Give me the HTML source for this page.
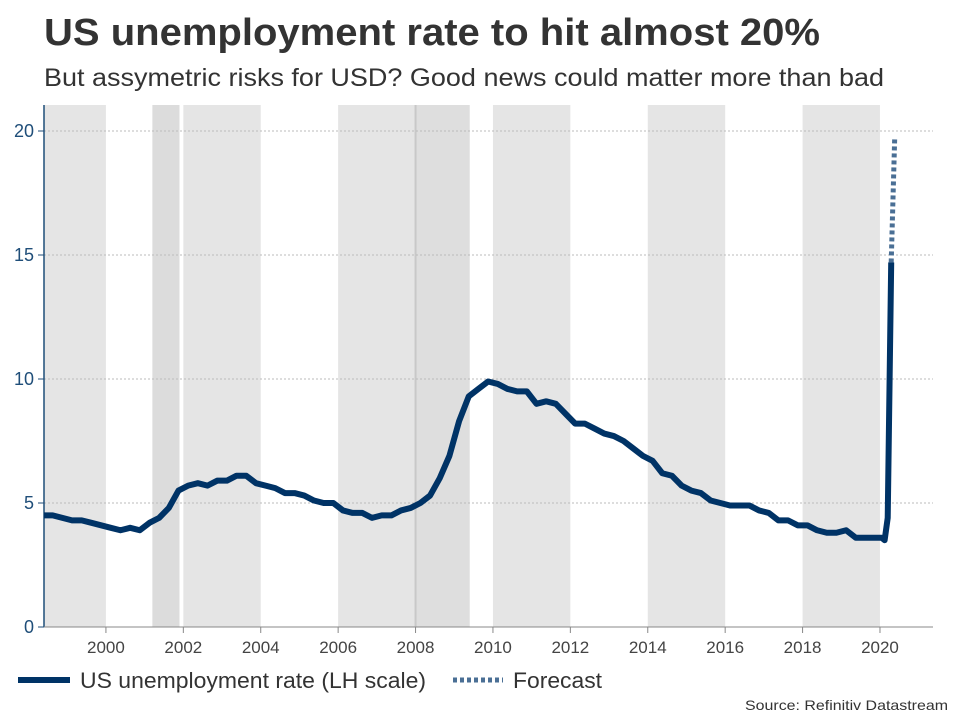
<!DOCTYPE html>
<html><head><meta charset="utf-8"><style>
body{margin:0;width:960px;height:720px;background:#fff;font-family:"Liberation Sans",Arial,sans-serif;overflow:hidden}
</style></head><body>
<svg width="960" height="720" id="c" xmlns="http://www.w3.org/2000/svg">
<text x="44" y="45" font-size="38" font-weight="bold" fill="#333" textLength="776" lengthAdjust="spacingAndGlyphs">US unemployment rate to hit almost 20%</text>
<text x="44" y="86" font-size="25" fill="#333" textLength="840" lengthAdjust="spacingAndGlyphs">But assymetric risks for USD? Good news could matter more than bad</text>
<g id="bands"></g><g id="grid"></g><g id="axes"></g><g id="series"></g>
<g>
<line x1="18" y1="680" x2="70" y2="680" stroke="#003366" stroke-width="6"/>
<text x="80" y="688" font-size="22" fill="#333" textLength="346" lengthAdjust="spacingAndGlyphs">US unemployment rate (LH scale)</text>
<line x1="453" y1="680" x2="503" y2="680" stroke="#4a6f95" stroke-width="5" stroke-dasharray="4 3"/>
<text x="513" y="688" font-size="22" fill="#333" textLength="89" lengthAdjust="spacingAndGlyphs">Forecast</text>
</g>
<text x="948" y="710" font-size="14" fill="#333" text-anchor="end" textLength="203" lengthAdjust="spacingAndGlyphs">Source: Refinitiv Datastream</text>
</svg>
<script>
const xTicks=[2000,2002,2004,2006,2008,2010,2012,2014,2016,2018,2020];
const yTicks=[0,5,10,15,20];
const bandStarts=[1998.4,2001.2,2002,2006,2008,2010,2014,2018];
const bandEnds=[2000,2001.9,2004,2008,2009.4,2012,2016,2020];
const startYear=1998;
const quarterly=[4.5,4.5,4.4,4.3,4.3,4.2,4.1,4.0,3.9,4.0,3.9,4.2,4.4,4.8,5.5,5.7,5.8,5.7,5.9,5.9,6.1,6.1,5.8,5.7,5.6,5.4,5.4,5.3,5.1,5.0,5.0,4.7,4.6,4.6,4.4,4.5,4.5,4.7,4.8,5.0,5.3,6.0,6.9,8.3,9.3,9.6,9.9,9.8,9.6,9.5,9.5,9.0,9.1,9.0,8.6,8.2,8.2,8.0,7.8,7.7,7.5,7.2,6.9,6.7,6.2,6.1,5.7,5.5,5.4,5.1,5.0,4.9,4.9,4.9,4.7,4.6,4.3,4.3,4.1,4.1,3.9,3.8,3.8,3.9,3.6,3.6,3.6];
const recentDates=[2020.04,2020.12,2020.2,2020.29];
const recentValues=[3.6,3.5,4.4,14.7];
const forecastDates=[2020.29,2020.38];
const forecastValues=[14.7,19.7];
const X0=1998.4,X1=2021.37,PX0=44,PX1=933,PY0=627,PY20=131;
const sx=v=>PX0+(v-X0)/(X1-X0)*(PX1-PX0);
const sy=v=>PY0-(v/20)*(PY0-PY20);
const NS="http://www.w3.org/2000/svg";
function mk(t,a,p){const e=document.createElementNS(NS,t);for(const k in a)e.setAttribute(k,a[k]);p.appendChild(e);return e;}
const bands=document.getElementById('bands');
bandStarts.forEach((s,i)=>{
 const fill=(i===1)?"#dcdcdc":(i===4?"#dedede":"#e5e5e5");
 const r=mk('rect',{x:sx(s),y:105,width:sx(bandEnds[i])-sx(s),height:PY0-105,fill:fill},bands);
 
 
});
const vl=mk('line',{x1:sx(2008),x2:sx(2008),y1:105,y2:PY0,stroke:"#c8c8c8","stroke-width":2},bands);


const grid=document.getElementById('grid'),axes=document.getElementById('axes');
yTicks.forEach(v=>{
 if(v>0){const g=mk('line',{x1:PX0,x2:PX1,y1:sy(v),y2:sy(v),stroke:"#bbb","stroke-dasharray":"2 2","stroke-width":1},grid);
 
 }
 const tk=mk('line',{x1:PX0-6,x2:PX0,y1:sy(v),y2:sy(v),stroke:"#1f4e79"},axes);
 
 
 const t=mk('text',{x:PX0-10,y:sy(v)+6,"font-size":18,fill:"#1f4e79","text-anchor":"end"},axes);
 t.textContent=v;
 
 
});
const ya=mk('line',{x1:PX0,x2:PX0,y1:105,y2:PY0,stroke:"#1f4e79","stroke-width":1.5},axes);


const xa=mk('line',{x1:PX0,x2:PX1,y1:PY0,y2:PY0,stroke:"#888","stroke-width":1},axes);


xTicks.forEach(v=>{
 const tk=mk('line',{x1:sx(v),x2:sx(v),y1:PY0,y2:PY0+6,stroke:"#888"},axes);
 
 
 const t=mk('text',{x:sx(v),y:PY0+26,"font-size":17,fill:"#444","text-anchor":"middle"},axes);
 t.textContent=v;
 
 
});
const series=document.getElementById('series');
let pts=quarterly.map((v,i)=>{const d=Math.max(X0,startYear+(i+1)*0.25+0.125);return [sx(d),sy(v)];});
pts[0][0]=sx(X0);
recentDates.forEach((d,i)=>pts.push([sx(d),sy(recentValues[i])]));
const p=mk('polyline',{points:pts.map(q=>q.join(',')).join(' '),fill:"none",stroke:"#003366","stroke-width":6,"stroke-linejoin":"round"},series);


const f=mk('polyline',{points:forecastDates.map((d,i)=>sx(d)+','+sy(forecastValues[i])).join(' '),fill:"none",stroke:"#4a6f95","stroke-width":5,"stroke-dasharray":"4 3"},series);


</script>
</body></html>
